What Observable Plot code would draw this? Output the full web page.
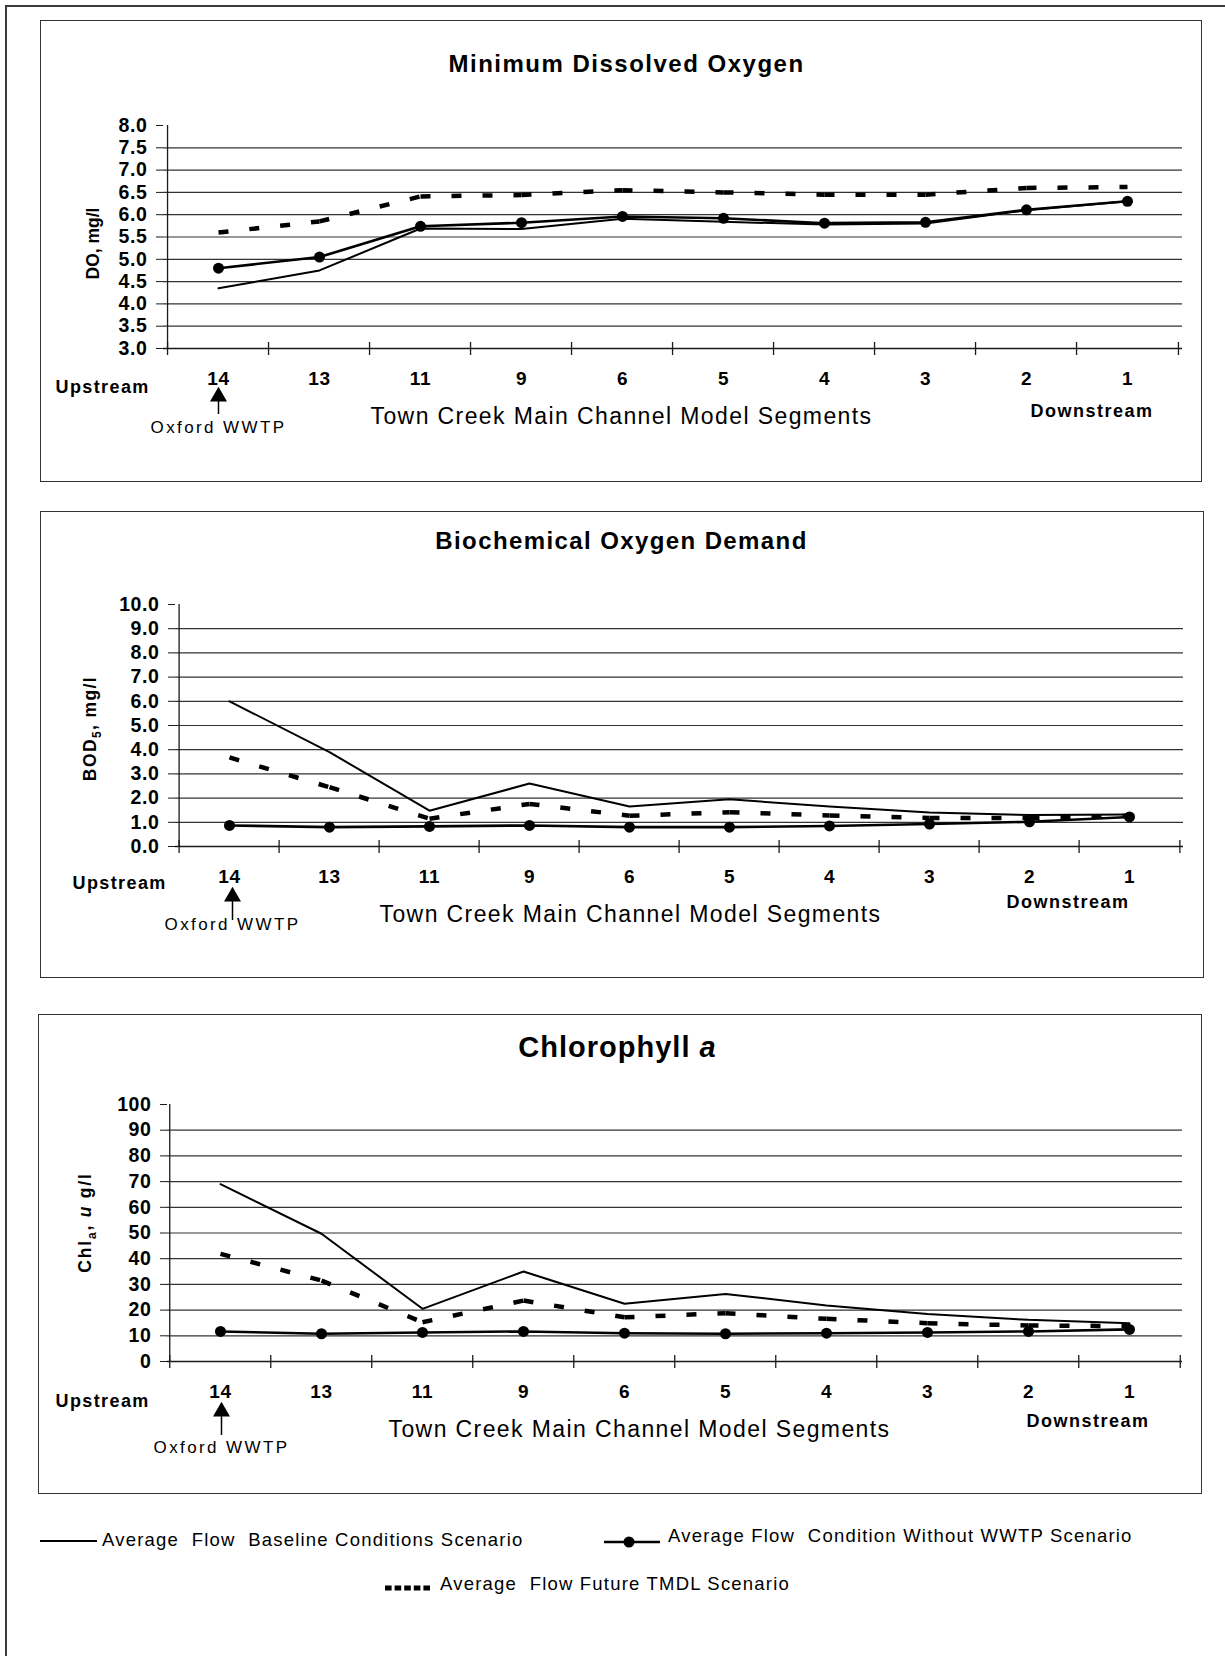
<!DOCTYPE html>
<html><head><meta charset="utf-8">
<script src="https://cdn.jsdelivr.net/npm/d3@7"></script>
<script src="https://cdn.jsdelivr.net/npm/@observablehq/plot@0.6"></script>
<style>
html, body { margin:0; padding:0; background:#fff; }
body { width:1225px; height:1656px; position:relative; overflow:hidden; font-family:"Liberation Sans", Arial, Helvetica, sans-serif; color:#000; }
.outer { position:absolute; left:5px; top:5px; width:1240px; height:1670px; border:2px solid #3a3a3a; box-sizing:border-box; }
.panel { position:absolute; box-sizing:border-box; }
.panel svg { position:absolute; left:0; top:0; display:block; overflow:visible; }
.panel .border { position:absolute; left:0; top:0; right:0; bottom:0; border:1.5px solid #333; pointer-events:none; }
.leg { position:absolute; font-size:18.5px; letter-spacing:1.2px; white-space:pre; line-height:1; transform:translateY(-50%); }
#legsvg { position:absolute; left:0; top:0; }
</style></head><body>
<div class="outer"></div>
<div id="p1" class="panel"></div>
<div id="p2" class="panel"></div>
<div id="p3" class="panel"></div>
<div id="legend"></div>
<script>
// ---------- data ----------
const segments = ["14", "13", "11", "9", "6", "5", "4", "3", "2", "1"];

const doBaseline = [4.35, 4.75, 5.69, 5.68, 5.91, 5.84, 5.78, 5.80, 6.10, 6.30];
const doWithout  = [4.80, 5.05, 5.74, 5.82, 5.96, 5.92, 5.81, 5.83, 6.11, 6.30];
const doTmdl     = [5.60, 5.85, 6.41, 6.44, 6.55, 6.50, 6.45, 6.45, 6.60, 6.62];

const bodBaseline = [6.00, 3.90, 1.48, 2.60, 1.65, 1.95, 1.65, 1.40, 1.30, 1.32];
const bodWithout  = [0.87, 0.80, 0.83, 0.87, 0.80, 0.80, 0.85, 0.93, 1.02, 1.22];
const bodTmdl     = [3.68, 2.45, 1.15, 1.76, 1.27, 1.42, 1.28, 1.18, 1.18, 1.27];

const chlBaseline = [69.0, 49.7, 20.5, 35.0, 22.5, 26.3, 21.8, 18.5, 16.2, 14.9];
const chlWithout  = [11.7, 10.8, 11.3, 11.7, 11.0, 10.8, 11.0, 11.3, 11.7, 12.5];
const chlTmdl     = [41.9, 31.5, 15.3, 23.7, 17.2, 18.8, 16.6, 14.9, 14.0, 13.8];

const doTicks  = [3.0, 3.5, 4.0, 4.5, 5.0, 5.5, 6.0, 6.5, 7.0, 7.5, 8.0];
const bodTicks = [0, 1, 2, 3, 4, 5, 6, 7, 8, 9, 10];
const chlTicks = [0, 10, 20, 30, 40, 50, 60, 70, 80, 90, 100];

const titles = ["Minimum Dissolved Oxygen", "Biochemical Oxygen Demand", "Chlorophyll a"];
const yLabels = ["DO, mg/l", "BOD5, mg/l", "Chla, u g/l"];
const xTitle = "Town Creek Main Channel Model Segments";
const upLabel = "Upstream", downLabel = "Downstream", plantLabel = "Oxford WWTP";
const legendLabels = [
  "Average  Flow  Baseline Conditions Scenario",
  "Average Flow  Condition Without WWTP Scenario",
  "Average  Flow Future TMDL Scenario"
];

// ---------- helpers ----------
function textsWith(S, str) {
  return S.selectAll("text").filter(function () { return this.textContent === str; });
}
function rich(t, parts) {
  t.text(null);
  let shift = 0;
  for (const p of parts) {
    const s = t.append("tspan").text(p.t);
    const want = p.sub ? 5 : 0;
    if (want !== shift) { s.attr("dy", want - shift); shift = want; }
    if (p.sub) s.attr("font-size", "12px");
    if (p.it) s.attr("font-style", "italic");
  }
}

// ---------- panel builder ----------
function buildPanel(cfg) {
  const {id, box, frame, yDomain, ticks, fmt, base, without, tmdl, ann} = cfg;
  const W = box.R - box.L, H = box.B - box.T;
  const el = document.getElementById(id);
  Object.assign(el.style, {left: box.L + "px", top: box.T + "px", width: W + "px", height: H + "px"});
  const mL = frame.l - box.L, mR = box.R - frame.r, mT = frame.t - box.T, mB = box.B - frame.b;
  const step = (frame.r - frame.l) / segments.length;
  const plotH = frame.b - frame.t;
  const rows = segments.map((seg, i) => ({seg, base: base[i], without: without[i]}));
  const dashRows = [];
  for (let i = 0; i < segments.length - 1; i++) {
    dashRows.push({seg: segments[i], v: tmdl[i], k: i}, {seg: segments[i + 1], v: tmdl[i + 1], k: i});
  }
  const rel = (X, Y) => ({dx: X - frame.l, dy: Y - frame.t});
  const ink = "#1a1a1a";
  const txt = (s, X, Y, o) => Plot.text([s], {text: d => d, frameAnchor: "top-left", ...rel(X, Y), lineAnchor: "middle", ...o});

  const svg = Plot.plot({
    width: W, height: H,
    marginLeft: mL, marginRight: mR, marginTop: mT, marginBottom: mB,
    style: {fontFamily: '"Liberation Sans", Arial, Helvetica, sans-serif', color: "#000", background: "transparent", overflow: "visible"},
    x: {type: "point", domain: segments, padding: 0.5},
    y: {domain: yDomain},
    marks: [
      Plot.gridY(ticks.filter(v => v > yDomain[0] && v < yDomain[1]), {stroke: "#333", strokeOpacity: 1, strokeWidth: 1.2}),
      Plot.ruleY([yDomain[0]], {stroke: ink, strokeWidth: 1.3}),
      Plot.ruleX([segments[0]], {x: d => d, dx: -step / 2, stroke: ink, strokeWidth: 1.3}),
      Plot.ruleX(segments, {x: d => d, dx: -step / 2, insetTop: plotH - 6, insetBottom: -7, stroke: ink, strokeWidth: 1.3}),
      Plot.ruleX([segments[segments.length - 1]], {x: d => d, dx: step / 2, insetTop: plotH - 6, insetBottom: -7, stroke: ink, strokeWidth: 1.3}),
      Plot.axisY(ticks, {tickSize: 7, tickPadding: 9, tickFormat: fmt, fontSize: 19.5, fontWeight: "bold", label: null, stroke: ink}),
      Plot.axisX({tickSize: 0, tickPadding: 23, fontSize: 19, fontWeight: "bold", label: null}),
      // data
      Plot.line(rows, {x: "seg", y: "base", stroke: "#000", strokeWidth: 2}),
      Plot.line(dashRows, {x: "seg", y: "v", z: "k", stroke: "#000", strokeWidth: 4.5, strokeDasharray: "10,21", strokeLinecap: "butt", strokeLinejoin: "miter"}),
      Plot.line(rows, {x: "seg", y: "without", stroke: "#000", strokeWidth: 2.6}),
      Plot.dot(rows, {x: "seg", y: "without", r: 5.5, fill: "#000", stroke: "none"}),
      // annotations
      txt(ann.title, ann.titleX, ann.titleY, {fontSize: ann.titleSize, fontWeight: "bold", textAnchor: "middle"}),
      txt(upLabel, ann.upX, ann.upY, {fontSize: 18, fontWeight: "bold", textAnchor: "start"}),
      txt(downLabel, ann.downX, ann.downY, {fontSize: 18, fontWeight: "bold", textAnchor: "start"}),
      txt(xTitle, ann.xtX, ann.xtY, {fontSize: 23, textAnchor: "middle"}),
      Plot.text([ann.ylab], {text: d => d, frameAnchor: "top-left", ...rel(ann.ylX, ann.ylY), rotate: -90, textAnchor: "middle", lineAnchor: "middle", fontSize: 17.5, fontWeight: "bold"}),
      Plot.text([plantLabel], {text: d => d, x: () => segments[0], frameAnchor: "top", dx: ann.arrowDx, dy: ann.plantY - frame.t, textAnchor: "middle", lineAnchor: "middle", fontSize: 17}),
      Plot.ruleX([segments[0]], {x: d => d, dx: ann.arrowDx, insetTop: ann.stemTop - frame.t, insetBottom: frame.b - ann.stemBottom, stroke: "#000", strokeWidth: 1.5}),
      Plot.dot([segments[0]], {x: d => d, frameAnchor: "top", dx: ann.arrowDx, dy: ann.triY - frame.t, symbol: "triangle", r: 6.3, fill: "#000", stroke: "none"})
    ]
  });
  const S = d3.select(svg);
  S.selectAll("text").style("letter-spacing", "0.6px");
  textsWith(S, ann.title).style("letter-spacing", ann.titleLS + "px");
  textsWith(S, upLabel).style("letter-spacing", "1.4px");
  textsWith(S, downLabel).style("letter-spacing", "1.5px");
  textsWith(S, xTitle).style("letter-spacing", "1.4px");
  textsWith(S, plantLabel).style("letter-spacing", "2.4px");
  const yl = textsWith(S, ann.ylab).style("letter-spacing", ann.ylLS + "px");
  if (ann.ylParts) rich(yl, ann.ylParts);
  if (ann.titleParts) rich(textsWith(S, ann.title), ann.titleParts);
  el.appendChild(svg);
  const b = document.createElement("div"); b.className = "border"; el.appendChild(b);
}

buildPanel({
  id: "p1", box: {L: 40, T: 20, R: 1202, B: 482}, frame: {l: 163, r: 1182, t: 125, b: 348},
  yDomain: [3, 8], ticks: doTicks, fmt: d3.format(".1f"), base: doBaseline, without: doWithout, tmdl: doTmdl,
  ann: {title: titles[0], titleX: 626, titleY: 64, titleSize: 24, titleLS: 1.5,
        upX: 55, upY: 387, downX: 1030, downY: 411, xtX: 621, xtY: 416,
        ylab: yLabels[0], ylX: 93, ylY: 243, ylLS: 0,
        plantY: 427, arrowDx: 0, triY: 396, stemTop: 400, stemBottom: 414}
});
buildPanel({
  id: "p2", box: {L: 40, T: 511, R: 1204, B: 978}, frame: {l: 175, r: 1183, t: 604, b: 846},
  yDomain: [0, 10], ticks: bodTicks, fmt: d3.format(".1f"), base: bodBaseline, without: bodWithout, tmdl: bodTmdl,
  ann: {title: titles[1], titleX: 621, titleY: 541, titleSize: 24, titleLS: 1.4,
        upX: 72, upY: 883, downX: 1006, downY: 902, xtX: 630, xtY: 914,
        ylab: yLabels[1], ylX: 89.5, ylY: 728, ylLS: 1.4,
        ylParts: [{t: "BOD"}, {t: "5", sub: true}, {t: ", mg/l"}],
        plantY: 924, arrowDx: 3, triY: 896, stemTop: 899, stemBottom: 920}
});
buildPanel({
  id: "p3", box: {L: 38, T: 1014, R: 1202, B: 1494}, frame: {l: 167, r: 1182, t: 1104, b: 1361},
  yDomain: [0, 100], ticks: chlTicks, fmt: d3.format("d"), base: chlBaseline, without: chlWithout, tmdl: chlTmdl,
  ann: {title: titles[2], titleX: 617, titleY: 1047, titleSize: 29, titleLS: 1,
        titleParts: [{t: "Chlorophyll "}, {t: "a", it: true}],
        upX: 55, upY: 1401, downX: 1026, downY: 1421, xtX: 639, xtY: 1429,
        ylab: yLabels[2], ylX: 85, ylY: 1222, ylLS: 1.8,
        ylParts: [{t: "Chl"}, {t: "a", sub: true}, {t: ", "}, {t: "u", it: true}, {t: " g/l"}],
        plantY: 1447, arrowDx: 1, triY: 1411, stemTop: 1415, stemBottom: 1435}
});

// ---------- legend ----------
(function () {
  const host = document.getElementById("legend");
  const ns = "http://www.w3.org/2000/svg";
  const s = document.createElementNS(ns, "svg");
  s.setAttribute("id", "legsvg"); s.setAttribute("width", 1225); s.setAttribute("height", 1656);
  const add = (tag, attrs) => { const e = document.createElementNS(ns, tag); for (const k in attrs) e.setAttribute(k, attrs[k]); s.appendChild(e); };
  add("line", {x1: 40, x2: 97, y1: 1541, y2: 1541, stroke: "#000", "stroke-width": 1.8});
  add("line", {x1: 604, x2: 660, y1: 1542, y2: 1542, stroke: "#000", "stroke-width": 2.6});
  add("circle", {cx: 629, cy: 1542, r: 5.5, fill: "#000"});
  add("line", {x1: 385, x2: 432, y1: 1588, y2: 1588, stroke: "#000", "stroke-width": 5, "stroke-dasharray": "6.6,3"});
  host.appendChild(s);
  const pos = [[102, 1540], [668, 1536], [440, 1584]];
  legendLabels.forEach((t, i) => {
    const d = document.createElement("div");
    d.className = "leg"; d.textContent = t;
    d.style.left = pos[i][0] + "px"; d.style.top = pos[i][1] + "px";
    host.appendChild(d);
  });
})();
</script>
</body></html>
